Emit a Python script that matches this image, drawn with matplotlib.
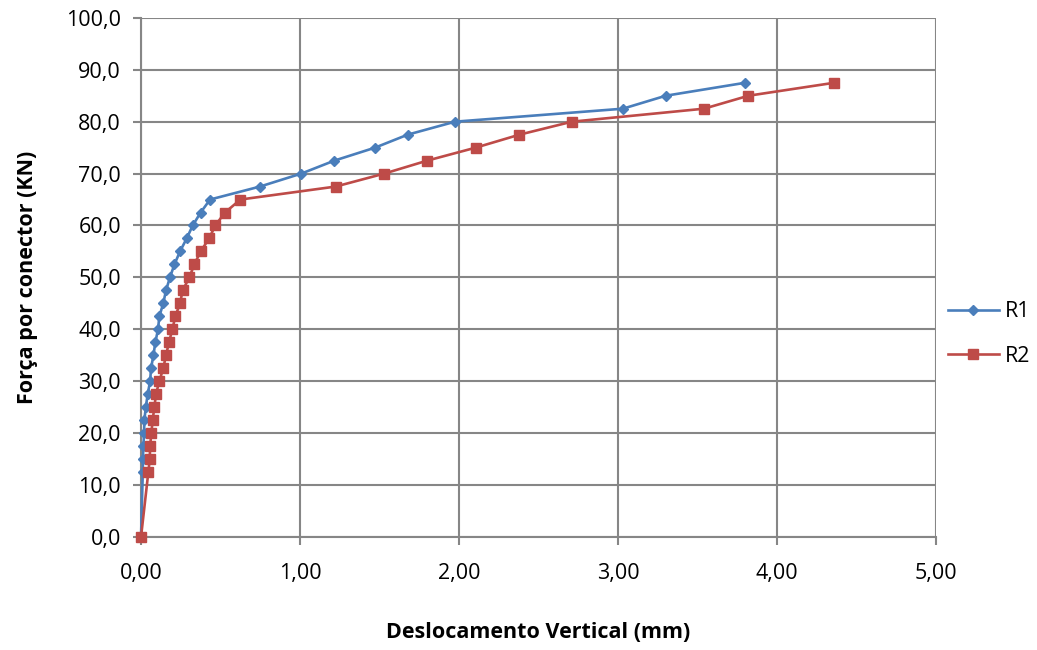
import matplotlib
matplotlib.use("Agg")
import matplotlib.pyplot as plt
from matplotlib.ticker import FuncFormatter, MultipleLocator

# Load levels per connector (kN)
forca_r1 = [0, 12.5, 15, 17.5, 20, 22.5, 25, 27.5, 30, 32.5, 35, 37.5, 40, 42.5,
            45, 47.5, 50, 52.5, 55, 57.5, 60, 62.5, 65, 67.5, 70, 72.5, 75, 77.5,
            80, 82.5, 85, 87.5]
desl_r1 = [0, 0.011, 0.012, 0.015, 0.019, 0.021, 0.030, 0.042, 0.057, 0.063, 0.078,
           0.090, 0.107, 0.115, 0.140, 0.157, 0.182, 0.210, 0.245, 0.287, 0.325,
           0.375, 0.434, 0.748, 1.008, 1.216, 1.472, 1.677, 1.975, 3.03, 3.30, 3.80]

forca_r2 = [0, 12.5, 15, 17.5, 20, 22.5, 25, 27.5, 30, 32.5, 35, 37.5, 40, 42.5,
            45, 47.5, 50, 52.5, 55, 57.5, 60, 62.5, 65, 67.5, 70, 72.5, 75, 77.5,
            80, 82.5, 85, 87.5]
desl_r2 = [0, 0.046, 0.055, 0.057, 0.065, 0.073, 0.084, 0.094, 0.115, 0.140, 0.157,
           0.176, 0.197, 0.216, 0.245, 0.262, 0.304, 0.335, 0.375, 0.428, 0.467,
           0.528, 0.625, 1.224, 1.53, 1.80, 2.105, 2.38, 2.71, 3.54, 3.82, 4.36]

series_labels = ["R1", "R2"]
x_label = "Deslocamento Vertical (mm)"
y_label = "Força por conector (KN)"

plt.rcParams["font.family"] = ["Open Sans", "DejaVu Sans"]
fs = 15.5

fig = plt.figure(figsize=(10.37, 6.5), dpi=100)
ax = fig.add_axes([0.136, 0.174, 0.7667, 0.7985])

grid_c = "#868686"
ax.plot(desl_r1, forca_r1, color="#4A7EBB", lw=1.9, marker="D", ms=5.5,
        label=series_labels[0], zorder=3, clip_on=False)
ax.plot(desl_r2, forca_r2, color="#BE4B48", lw=1.9, marker="s", ms=7,
        label=series_labels[1], zorder=3, clip_on=False)

ax.set_xlim(0, 5)
ax.set_ylim(0, 100)
ax.xaxis.set_major_locator(MultipleLocator(1))
ax.yaxis.set_major_locator(MultipleLocator(10))
ax.xaxis.set_major_formatter(FuncFormatter(lambda v, p: f"{v:.2f}".replace(".", ",")))
ax.yaxis.set_major_formatter(FuncFormatter(lambda v, p: f"{v:.1f}".replace(".", ",")))

ax.grid(True, color=grid_c, lw=1.5)
ax.set_axisbelow(True)
for s in ["top", "right"]:
    ax.spines[s].set_visible(False)
for s in ["left", "bottom"]:
    ax.spines[s].set_color(grid_c)
    ax.spines[s].set_linewidth(1.5)
ax.tick_params(axis="both", colors=grid_c, width=1.5, length=5.5, labelsize=fs,
               labelcolor="black")
ax.tick_params(axis="x", pad=13)
ax.tick_params(axis="y", pad=9)

ax.set_xlabel(x_label, fontsize=fs, fontweight="bold", labelpad=28)
ax.set_ylabel(y_label, fontsize=fs, fontweight="bold", labelpad=20)

leg = ax.legend(loc="center left", bbox_to_anchor=(0.99, 0.391), frameon=False,
                fontsize=fs, handlelength=2.4, labelspacing=1.1,
                handletextpad=0.25)

fig.savefig("out.png", dpi=100, facecolor="white")
